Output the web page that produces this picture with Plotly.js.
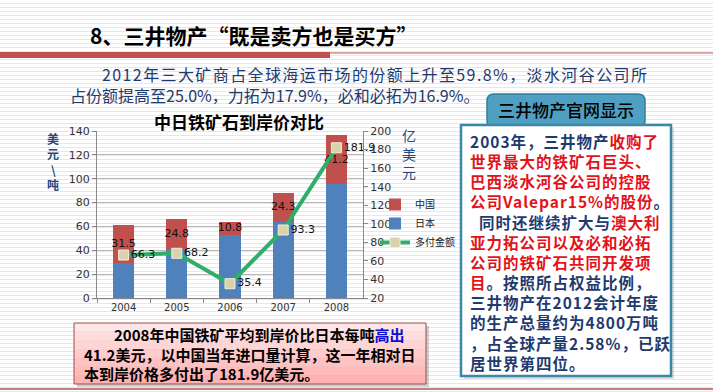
<!DOCTYPE html>
<html>
<head>
<meta charset="utf-8">
<script src="https://cdn.plot.ly/plotly-3.0.1.min.js"></script>
<style>
html,body{margin:0;padding:0;}
#chart{width:713px;height:392px;
background:repeating-linear-gradient(to bottom,#ffffff 0px,#ffffff 3px,#e8e8e2 3px,#e8e8e2 4px);}
</style>
</head>
<body>
<div id="chart"></div>
<script>
// ---- data ----
const years = ['2004','2005','2006','2007','2008'];
const japanPrice = [29.7, 41.4, 52.9, 64.0, 95.3];      // 日本 (美元/吨)
const chinaPremium = [31.5, 24.8, 10.8, 24.3, 41.2];    // 中国比日本高出 (美元/吨)
const extraPaid = [66.3, 68.2, 35.4, 93.3, 181.9];      // 多付金额 (亿美元)
const seriesNames = ['中国', '日本', '多付金额'];
const chartTitle = '中日铁矿石到岸价对比';
const leftAxisTitle = ['美','元','\\','吨'];
const rightAxisTitle = ['亿','美','元'];
const slideTitle = '8、三井物产“既是卖方也是买方”';
const introLines = ['2012年三大矿商占全球海运市场的份额上升至59.8%，淡水河谷公司所',
                    '占份额提高至25.0%，力拓为17.9%，必和必拓为16.9%。'];
const tabText = '三井物产官网显示';
// box lines: segments [text, highlighted?]
const boxLines = [
  [['2003年，三井物产',0],['收购了',1]],
  [['世界最大的铁矿石巨头、',1]],
  [['巴西淡水河谷公司的控股',1]],
  [['公司Valepar15%的股份',1],['。',0]],
  [['\u00a0\u00a0同时还继续扩大与',0],['澳大利',1]],
  [['亚力拓公司以及必和必拓',1]],
  [['公司的铁矿石共同开发项',1]],
  [['目',1],['。按照所占权益比例，',0]],
  [['三井物产在2012会计年度',0]],
  [['的生产总量约为4800万吨',0]],
  [['，占全球产量2.58%，已跃',0]],
  [['居世界第四位。',0]]
];
const noteLines = [
  [['\u3000\u30002008年中国铁矿平均到岸价比日本每吨',0],['高出',1]],
  [['41.2美元，以中国当年进口量计算，这一年相对日',0]],
  [['本到岸价格多付出了181.9亿美元。',0]]
];

// ---- helpers (pixel -> paper) ----
const W = 713, H = 392;
const X = p => p / W;
const Y = p => 1 - p / H;
const CJK = '"Noto Sans CJK SC", "Noto Sans", sans-serif';
const NAVY = '#1f3a6e';
const RED = '#e3131b';

const traces = [
  {type:'bar', x:years, y:japanPrice, name:seriesNames[1], marker:{color:'#4f81bd'},
   legendrank:2, hoverinfo:'skip'},
  {type:'bar', x:years, y:chinaPremium, name:seriesNames[0], marker:{color:'#c0504d'},
   legendrank:1, hoverinfo:'skip'},
  {type:'scatter', mode:'text', x:years,
   y:japanPrice.map((v,i)=>v+chinaPremium[i]/2),
   text:chinaPremium.map(v=>v.toFixed(1)), textposition:'middle center',
   textfont:{size:11, color:'#111', family:'"DejaVu Sans", sans-serif'},
   showlegend:false, hoverinfo:'skip', cliponaxis:false},
  {type:'scatter', mode:'lines+markers+text', x:years, y:extraPaid, yaxis:'y2',
   name:seriesNames[2], legendrank:3,
   line:{color:'#2fae68', width:4},
   marker:{symbol:'square', size:10, color:'#d9d2aa', line:{color:'#f2eedc', width:1}},
   text:extraPaid.map(v=>v.toFixed(1)), textposition:'middle right',
   textfont:{size:11, color:'#111', family:'"DejaVu Sans", sans-serif'},
   cliponaxis:false, hoverinfo:'skip'}
];

const annotations = [];
const shapes = [];
const segHtml = (segs, hi, lo, ls) => segs.map(s=>`<span style="color:${s[1]?hi:lo};letter-spacing:${ls}px">${s[0]}</span>`).join('');

// slide header
annotations.push({xref:'paper', yref:'paper', x:X(88), y:Y(35), xanchor:'left', yanchor:'middle',
  text:'<b>'+slideTitle+'</b>', showarrow:false, font:{family:CJK, size:21, color:'#000'}});
shapes.push({type:'rect', xref:'paper', yref:'paper', x0:0, x1:X(330), y0:Y(58), y1:Y(52),
  fillcolor:'#c0504d', line:{width:0}, layer:'below'});
shapes.push({type:'line', xref:'paper', yref:'paper', x0:X(330), x1:1, y0:Y(53), y1:Y(53),
  line:{color:'#c0504d', width:1}, layer:'below'});

// intro lines (first line justified wider in the reference)
annotations.push({xref:'paper', yref:'paper', x:X(68), y:Y(84.5), xanchor:'left', yanchor:'middle', align:'left',
  text:`\u3000\u3000<span style="color:${NAVY};letter-spacing:1.4px">${introLines[0]}</span><br>`+
       `<span style="color:${NAVY};letter-spacing:0px">${introLines[1]}</span>`,
  showarrow:false, font:{family:CJK, size:16, color:NAVY}});

// chart title
annotations.push({xref:'paper', yref:'paper', x:X(239), y:Y(121), xanchor:'center', yanchor:'middle',
  text:'<b>'+chartTitle+'</b>', showarrow:false, font:{family:CJK, size:17, color:'#000'}});
// axis titles (stacked characters)
leftAxisTitle.forEach((c,i)=>{
  annotations.push({xref:'paper', yref:'paper', x:X(53), y:Y(138+15.6*i), xanchor:'center', yanchor:'middle',
    borderpad:0, text:'<b>'+c+'</b>', showarrow:false, font:{family:CJK, size:12, color:'#1f497d'}});
});
rightAxisTitle.forEach((c,i)=>{
  annotations.push({xref:'paper', yref:'paper', x:X(409), y:Y(135+18.5*i), xanchor:'center', yanchor:'middle',
    borderpad:0, text:c, showarrow:false, font:{family:CJK, size:14, color:'#1f497d'}});
});

// right box
function roundRect(x0,y0,x1,y1,r){
  const rx=r/W, ry=r/H;
  const a=X(x0), b=X(x1), t=Y(y0), u=Y(y1);
  return `M ${a+rx},${t} L ${b-rx},${t} Q ${b},${t} ${b},${t-ry} L ${b},${u+ry} Q ${b},${u} ${b-rx},${u} `+
         `L ${a+rx},${u} Q ${a},${u} ${a},${u+ry} L ${a},${t-ry} Q ${a},${t} ${a+rx},${t} Z`;
}
shapes.push({type:'path', xref:'paper', yref:'paper', path:roundRect(487,94,645,128,7),
  fillcolor:'#4f9fc2', line:{color:'#2f7f9e', width:1.5}, layer:'above'});
annotations.push({xref:'paper', yref:'paper', x:X(566), y:Y(110), xanchor:'center', yanchor:'middle',
  text:tabText, showarrow:false, font:{family:CJK, size:17, color:'#000', weight:500}});
shapes.push({type:'rect', xref:'paper', yref:'paper', x0:X(464), x1:X(674), y0:Y(379), y1:Y(128),
  fillcolor:'rgba(150,150,150,0.3)', line:{width:0}, layer:'above'});
shapes.push({type:'rect', xref:'paper', yref:'paper', x0:X(461), x1:X(671), y0:Y(376), y1:Y(125),
  fillcolor:'#ffffff', line:{color:'#3a87a6', width:2.5}, layer:'above'});
const BF = 15.5, LH = BF*1.3;
annotations.push({xref:'paper', yref:'paper', x:X(468), y:Y(141+5.5*LH), xanchor:'left', yanchor:'middle', align:'left',
  text:'<b>'+boxLines.map(l=>segHtml(l,RED,NAVY,1.0)).join('<br>')+'</b>', showarrow:false,
  font:{family:CJK, size:BF, color:NAVY}});

// bottom pink note
shapes.push({type:'rect', xref:'paper', yref:'paper', x0:X(77), x1:X(429), y0:Y(387), y1:Y(326),
  fillcolor:'rgba(120,120,120,0.35)', line:{width:0}, layer:'above'});
const bands = ['#ffe6e6','#ffdddd','#ffd4d4','#ffcbcb','#ffc2c2','#ffbaba','#ffb2b2'];
const bt=323, bb=384;
bands.forEach((c,i)=>{
  shapes.push({type:'rect', xref:'paper', yref:'paper', x0:X(74), x1:X(426),
    y0:Y(bt+(bb-bt)*(i+1)/bands.length), y1:Y(bt+(bb-bt)*i/bands.length),
    fillcolor:c, line:{width:0}, layer:'above'});
});
shapes.push({type:'rect', xref:'paper', yref:'paper', x0:X(74), x1:X(426), y0:Y(384), y1:Y(323),
  fillcolor:'rgba(0,0,0,0)', line:{color:'#9c4a4a', width:1}, layer:'above'});
annotations.push({xref:'paper', yref:'paper', x:X(82), y:Y(353.5), xanchor:'left', yanchor:'middle', align:'left',
  text:'<b>'+noteLines.map(l=>segHtml(l,'#1010d0','#000',0)).join('<br>')+'</b>', showarrow:false,
  font:{family:CJK, size:15, color:'#000'}});
shapes.push({type:'line', xref:'paper', yref:'paper', x0:0, x1:1, y0:Y(389), y1:Y(389),
  line:{color:'#b0574f', width:1.5}, layer:'above'});

const axisFont = {family:'"DejaVu Sans", sans-serif', size:10, color:'#333'};
const layout = {
  width:W, height:H, margin:{l:0,r:0,t:0,b:0},
  paper_bgcolor:'rgba(0,0,0,0)', plot_bgcolor:'rgba(0,0,0,0)',
  barmode:'stack', bargap:0.6,
  showlegend:true,
  legend:{x:X(375), y:Y(190), xanchor:'left', yanchor:'top', bgcolor:'rgba(0,0,0,0)', traceorder:'normal',
    font:{family:CJK, size:10, color:'#222'}, itemwidth:30, tracegroupgap:0},
  xaxis:{domain:[X(97),X(363)], type:'category', showline:true, linecolor:'#888', linewidth:1,
    ticks:'outside', tickson:'boundaries', ticklen:4, tickcolor:'#888', tickfont:axisFont,
    showgrid:false, fixedrange:true},
  yaxis:{domain:[Y(298),Y(131)], range:[0,140], dtick:20, showline:true, linecolor:'#888',
    ticks:'outside', ticklen:4, tickcolor:'#888', tickfont:{...axisFont, size:11},
    gridcolor:'#b8b8b8', gridwidth:1, zeroline:false, fixedrange:true},
  yaxis2:{overlaying:'y', side:'right', anchor:'x', range:[20,200], dtick:20, showline:true, linecolor:'#888',
    ticks:'outside', ticklen:4, tickcolor:'#888', tickfont:{...axisFont, size:11},
    showgrid:false, zeroline:false, fixedrange:true},
  annotations:annotations, shapes:shapes
};
Plotly.newPlot('chart', traces, layout, {displayModeBar:false, staticPlot:true});
</script>
</body>
</html>
